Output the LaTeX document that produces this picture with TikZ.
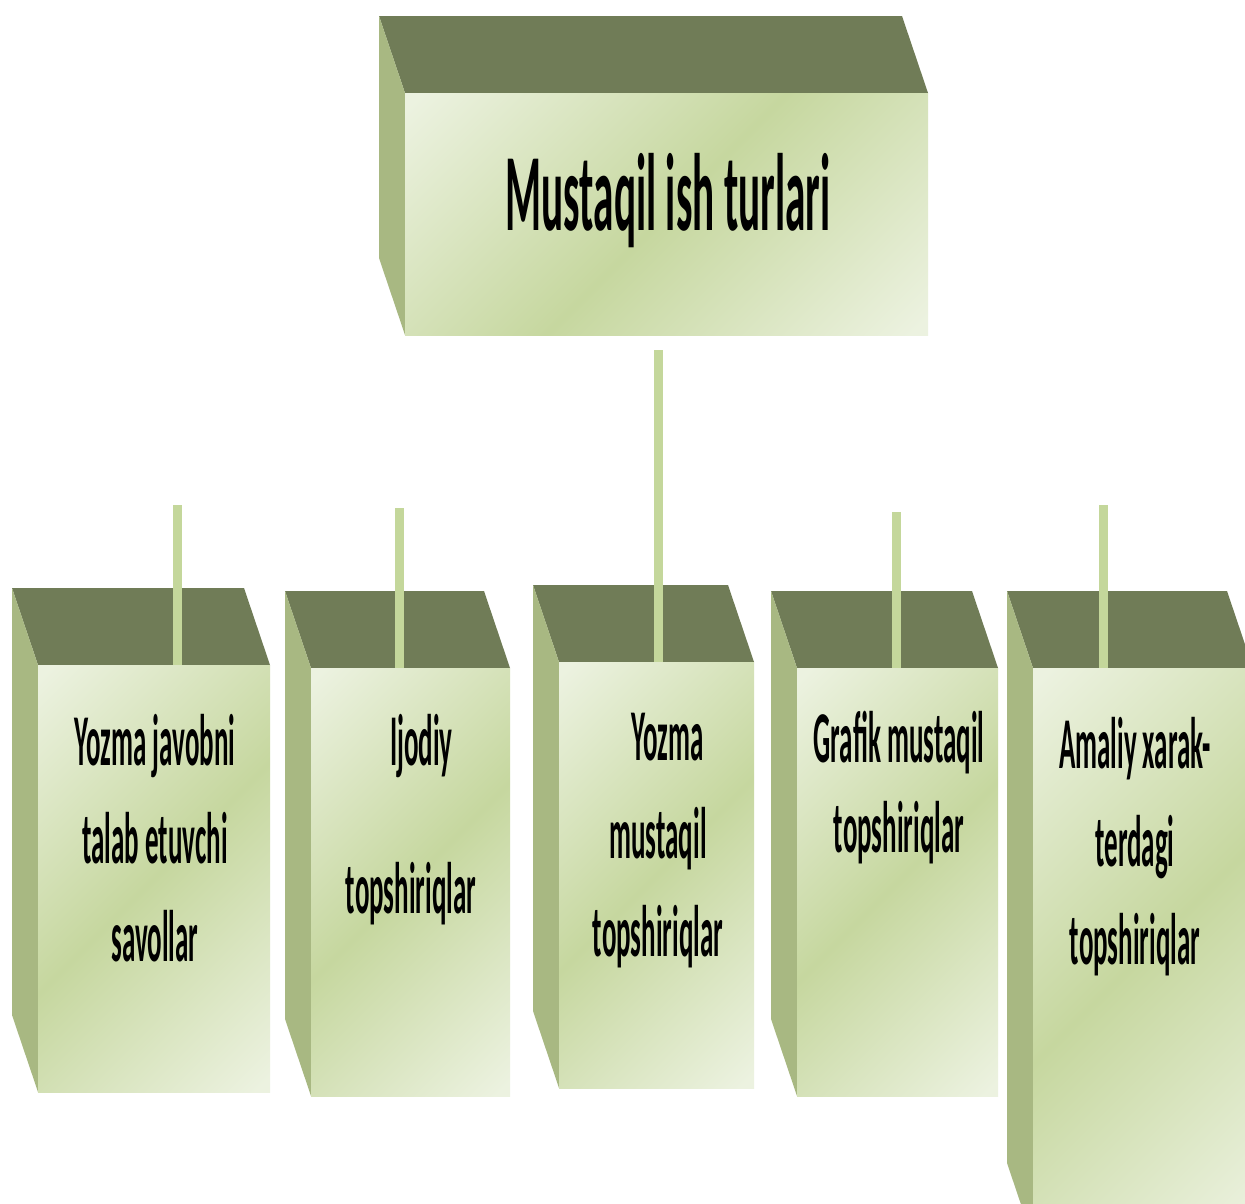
\documentclass[tikz,border=0pt]{standalone}
\usepackage{fontspec}
\setmainfont{Carlito}
\usepackage{graphicx}
\definecolor{topc}{RGB}{112,124,87}
\definecolor{sidec}{RGB}{168,184,130}
\definecolor{lightc}{RGB}{236,242,224}
\definecolor{greenc}{RGB}{198,215,159}
\definecolor{connc}{RGB}{196,215,155}
\pgfdeclarehorizontalshading{facesh}{100bp}{color(0bp)=(lightc); color(16bp)=(lightc); color(50bp)=(greenc); color(84bp)=(lightc); color(100bp)=(lightc)}
\tikzset{
  topface/.style={fill=topc},
  sideface/.style={fill=sidec},
  frontface/.style={shading=facesh, shading angle=-45, inner sep=0pt, outer sep=0pt, anchor=north west},
  conn/.style={draw=connc, line width=9pt},
  lbl/.style={inner sep=0pt, anchor=base, font=\bfseries\fontsize{73}{98}\selectfont},
  ttl/.style={inner sep=0pt, anchor=base, font=\bfseries\fontsize{110}{130}\selectfont}
}
\newcommand{\sqz}[1]{\scalebox{0.37}[1]{\begin{tabular}[t]{@{}c@{}}#1\end{tabular}}}
\newcommand{\mycube}[5]{%
  \fill[topface] ({#2-26},{#3-77}) -- ({#4-26},{#3-77}) -- (#4,#3) -- (#2,#3) -- cycle;
  \fill[sideface] ({#2-26},{#3-77}) -- (#2,#3) -- (#2,#5) -- ({#2-26},{#5-77}) -- cycle;
  \node[frontface, minimum width={#4-#2}, minimum height={#5-#3}] (#1) at (#2,#3) {};
}
\begin{document}
\begin{tikzpicture}[x=1pt,y=-1pt]
\useasboundingbox (0,0) rectangle (1245,1203);
\clip (0,0) rectangle (1245,1203);
\fill[white] (0,0) rectangle (1245,1203);
% boxes
\mycube{title}{405}{93}{928}{335}
\mycube{b1}{38}{665}{270}{1092}
\mycube{b2}{311}{668}{510}{1096}
\mycube{b3}{559}{662}{754}{1088}
\mycube{b4}{797}{668}{998}{1096}
\mycube{b5}{1033}{668}{1253}{1240}
% connectors
\coordinate (c0) at (658,350);
\coordinate (c1) at (177,505);
\coordinate (c2) at (399,508);
\coordinate (c4) at (896,512);
\coordinate (c5) at (1103,505);
\draw[conn] (c0) -- (c0 |- b3.north);
\draw[conn] (c1) -- (c1 |- b1.north);
\draw[conn] (c2) -- (c2 |- b2.north);
\draw[conn] (c4) -- (c4 |- b4.north);
\draw[conn] (c5) -- (c5 |- b5.north);
% texts
\node[ttl] (tt) at (668,230) {\scalebox{0.375}[1]{Mustaqil ish turlari}};
\node[lbl] (t1) at (155,765) {\sqz{Yozma javobni\\talab etuvchi\\savollar}};
\node[lbl] (t2) at (411,765) {\sqz{\hspace*{56pt}Ijodiy\\[50pt]topshiriqlar}};
\node[lbl] (t3) at (658,760) {\sqz{\hspace*{50pt}Yozma\\mustaqil\\topshiriqlar}};
\node[lbl] (t4) at (899,762) {\sqz{Grafik mustaqil\\[-8pt]topshiriqlar}};
\node[lbl] (t5) at (1135,768) {\sqz{Amaliy xarak-\\terdagi\\topshiriqlar}};
\end{tikzpicture}
\end{document}
